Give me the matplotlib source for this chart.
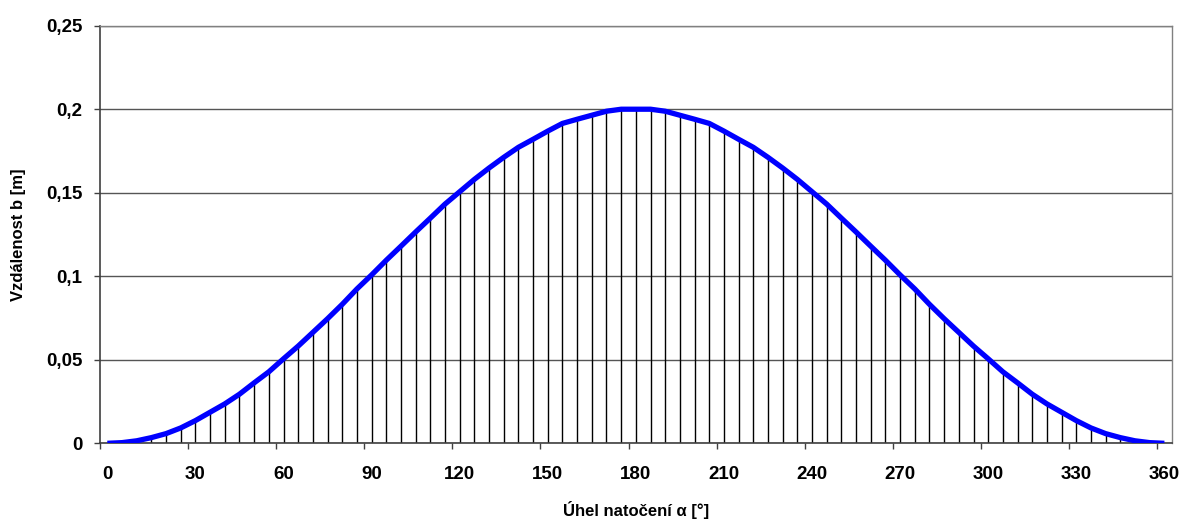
import matplotlib
matplotlib.use("Agg")
import matplotlib.pyplot as plt
import numpy as np

# Categories: angle in degrees (Excel line chart categories)
angles = list(range(0, 361, 5))

# Distance b [m] (symmetric around 180 deg)
b_left = [0.0, 0.0004, 0.0015, 0.0034, 0.0058, 0.0092, 0.0136, 0.0186, 0.0236,
          0.0294, 0.0362, 0.0428, 0.0506, 0.0582, 0.0664, 0.0746, 0.0832, 0.0924,
          0.1008, 0.1096, 0.1180, 0.1265, 0.1348, 0.1432, 0.1506, 0.1580, 0.1648,
          0.1712, 0.1772, 0.1820, 0.1869, 0.1915, 0.1940, 0.1964, 0.1988, 0.2000,
          0.2000]
b_right = [0.2000, 0.1988, 0.1964, 0.1940, 0.1915, 0.1869, 0.1820, 0.1772, 0.1712,
           0.1648, 0.1580, 0.1506, 0.1432, 0.1348, 0.1265, 0.1180, 0.1096, 0.1008,
           0.0924, 0.0832, 0.0746, 0.0664, 0.0582, 0.0506, 0.0428, 0.0362, 0.0294,
           0.0236, 0.0186, 0.0136, 0.0092, 0.0058, 0.0034, 0.0015, 0.0004, 0.0]
distance = b_left + b_right

x_tick_labels = ["0", "30", "60", "90", "120", "150", "180", "210", "240", "270", "300", "330", "360"]
y_ticks = [0, 0.05, 0.1, 0.15, 0.2, 0.25]
y_tick_labels = ["0", "0,05", "0,1", "0,15", "0,2", "0,25"]

W, H = 1185, 526
fig = plt.figure(figsize=(W / 100, H / 100), dpi=100)
plt.rcParams['font.family'] = ['Liberation Sans', 'DejaVu Sans']

left, right, top, bottom = 100, 1171.7, 25.7, 443.3
ax = fig.add_axes([left / W, 1 - bottom / H, (right - left) / W, (bottom - top) / H])

n = len(angles)
xpos = np.arange(n) + 0.5

# Drop lines
ax.vlines(xpos, 0, distance, colors='black', linewidth=1.0, zorder=2)
# Main line
ax.plot(xpos, distance, color='#0000FF', linewidth=3.8, solid_capstyle='butt',
        solid_joinstyle='round', zorder=3)

ax.set_xlim(0, n)
ax.set_ylim(0, 0.25)

TICK_FS = 13.5
TITLE_FS = 12

# Gridlines
ax.set_yticks(y_ticks)
ax.set_yticklabels(y_tick_labels, fontsize=TICK_FS, fontweight='bold')
ax.yaxis.grid(True, color='#555555', linewidth=1.0, zorder=1)
ax.set_axisbelow(True)

# X axis: major ticks at category boundaries, labels centered on categories
major = np.arange(0, n, 6)
ax.set_xticks(major)
ax.set_xticklabels([])
ax.set_xticks(major + 0.5, minor=True)
ax.set_xticklabels(x_tick_labels, minor=True, fontsize=TICK_FS, fontweight='bold')
ax.tick_params(axis='x', which='minor', length=0, pad=16)
ax.tick_params(axis='x', which='major', length=4.5, width=1, color='#404040', direction='out')
ax.tick_params(axis='y', length=4.5, width=1, color='#404040', direction='out', pad=8)

for s in ['top', 'right']:
    ax.spines[s].set_color('#808080')
    ax.spines[s].set_linewidth(1.0)
for s in ['left', 'bottom']:
    ax.spines[s].set_color('#404040')
    ax.spines[s].set_linewidth(1.2)

fig.text(636 / W, 1 - 510 / H, "Úhel natočení α [°]", ha='center', va='center',
         fontsize=TITLE_FS, fontweight='bold')
fig.text(19 / W, 1 - 234.5 / H, "Vzdálenost b [m]", ha='center', va='center',
         rotation=90, fontsize=TITLE_FS, fontweight='bold')

fig.savefig("out.png", dpi=100, facecolor='white')
